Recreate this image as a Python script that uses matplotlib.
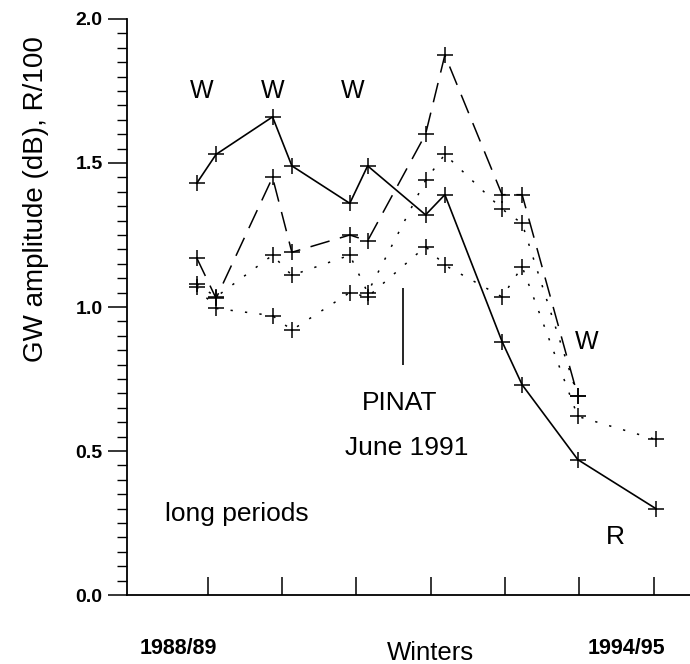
import numpy as np
import matplotlib
matplotlib.use("Agg")
import matplotlib.pyplot as plt
from matplotlib.ticker import MultipleLocator

plt.rcParams['font.family'] = ['Liberation Sans', 'DejaVu Sans']

# winters: tick 0 = 1988/89 ... tick 6 = 1994/95, two samples per winter
x_pos = [-0.15, 0.11, 0.87, 1.13, 1.91, 2.15, 2.93, 3.19, 3.96, 4.23, 4.98, 6.03]

solid_R = [1.43, 1.53, 1.66, 1.49, 1.36, 1.49, 1.32, 1.39, 0.88, 0.73, 0.47, 0.30]
dashed_W = [1.17, 1.03, 1.45, 1.19, 1.25, 1.23, 1.60, 1.875, 1.39, 1.39, 0.69]
dotted_up = [1.08, 1.035, 1.18, 1.11, 1.18, 1.05, 1.44, 1.53, 1.34, 1.29, 0.69]
dotted_lo = [1.07, 0.995, 0.97, 0.92, 1.05, 1.035, 1.21, 1.145, 1.035, 1.14, 0.62, 0.54]

winter_ticks = [0, 1, 2, 3, 4, 5, 6]
pinat_x = 2.62
pinat_span = (0.80, 1.066)

fig = plt.figure(figsize=(6.9, 6.64), dpi=100)
ax = fig.add_axes([0.184, 0.1039, 0.816, 0.8675])

mk = dict(marker='+', markersize=11, markeredgewidth=1.1, color='black')
ax.plot(x_pos, solid_R, '-', lw=1.2, **mk)
ax.plot(x_pos[:len(dashed_W)], dashed_W, lw=1.1, dashes=(13, 7), **mk)
ax.plot(x_pos[:len(dotted_up)], dotted_up, lw=1.1, dashes=(1.5, 8), **mk)
ax.plot(x_pos, dotted_lo, lw=1.1, dashes=(1.5, 8), **mk)

ax.vlines(pinat_x, *pinat_span, color='black', lw=1.2)

ax.set_xlim(-1.09, 6.49)
ax.set_ylim(0, 2.0)
for s in ['top', 'right']:
    ax.spines[s].set_visible(False)
ax.spines['left'].set_linewidth(1.3)
ax.spines['bottom'].set_linewidth(1.3)

ax.set_xticks(winter_ticks)
ax.set_xticklabels([])
ax.tick_params(axis='x', direction='in', length=13, width=1.1)
ax.yaxis.set_major_locator(MultipleLocator(0.5))
ax.yaxis.set_minor_locator(MultipleLocator(0.05))
ax.set_yticks([0, 0.5, 1.0, 1.5, 2.0])
ax.set_yticklabels(['0.0', '0.5', '1.0', '1.5', '2.0'], fontsize=14, fontweight='bold')
ax.tick_params(axis='y', which='major', direction='out', length=13.5, width=1.1, pad=4)
ax.tick_params(axis='y', which='minor', direction='out', length=7, width=1.0)

fig.text(0.052, 0.70, 'GW amplitude (dB), R/100', rotation=90, fontsize=20,
         ha='center', va='center')

ax.text(-0.40, -0.184, '1988/89', fontsize=15.5, fontweight='bold', ha='center', va='center', clip_on=False)
ax.text(5.64, -0.184, '1994/95', fontsize=15.5, fontweight='bold', ha='center', va='center', clip_on=False)
ax.text(2.99, -0.20, 'Winters', fontsize=18.5, ha='center', va='center', clip_on=False)

for xw in [-0.08, 0.87, 1.95]:
    ax.text(xw, 1.75, 'W', fontsize=18, ha='center', va='center')
ax.text(5.10, 0.88, 'W', fontsize=18, ha='center', va='center')
ax.text(5.48, 0.20, 'R', fontsize=19, ha='center', va='center')
ax.text(2.58, 0.667, 'PINAT', fontsize=19, ha='center', va='center')
ax.text(2.68, 0.51, 'June 1991', fontsize=19, ha='center', va='center')
ax.text(-0.58, 0.28, 'long periods', fontsize=19, ha='left', va='center')

fig.savefig('out.png', dpi=100)
